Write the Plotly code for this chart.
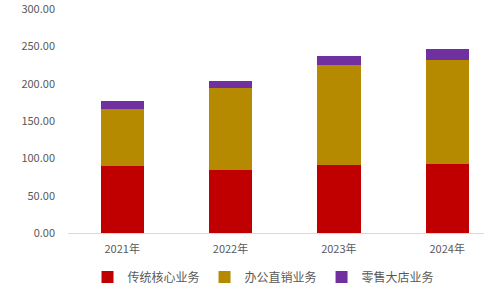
import plotly.graph_objects as go

years = ["2021年", "2022年", "2023年", "2024年"]
core = [89.7, 84.8, 91.5, 92.9]
office = [77.0, 109.2, 133.3, 138.6]
retail = [10.2, 9.4, 12.5, 14.8]
series_names = ["传统核心业务", "办公直销业务", "零售大店业务"]
colors = ["#C00000", "#B58900", "#7030A0"]
y_ticks = [0, 50, 100, 150, 200, 250, 300]

FONT = "Noto Sans CJK SC, Noto Sans, DejaVu Sans, sans-serif"

fig = go.Figure()
for name, vals, c in zip(series_names, [core, office, retail], colors):
    fig.add_trace(go.Bar(x=list(range(len(years))), y=vals, name=name,
                         marker=dict(color=c, line=dict(width=0))))

fig.update_layout(
    barmode="stack",
    bargap=0.6,
    width=503, height=291,
    margin=dict(l=68, r=19, t=9, b=58, autoexpand=False),
    paper_bgcolor="white", plot_bgcolor="white",
    font=dict(family=FONT, size=11, color="#595959"),
    showlegend=True,
    legend=dict(orientation="h", x=0.47, xanchor="center",
                yref="container", y=0.048, yanchor="middle",
                font=dict(size=12, color="#595959"), itemwidth=30,
                traceorder="normal"),
)
fig.update_xaxes(
    tickmode="array", tickvals=list(range(len(years))), ticktext=years,
    range=[-0.5, 3.34], showline=True, linecolor="#D9D9D9", linewidth=1,
    showgrid=False, zeroline=False, ticks="", ticklabelstandoff=6,
    automargin=False,
)
fig.update_yaxes(
    range=[0, 300.2], tickmode="array", tickvals=y_ticks,
    ticktext=[f"{v:.2f}" for v in y_ticks], showgrid=False, zeroline=False,
    showline=False, ticks="", ticklabelstandoff=12, automargin=False,
    ticklabeloverflow="allow",
)

fig.write_html("out.html")
